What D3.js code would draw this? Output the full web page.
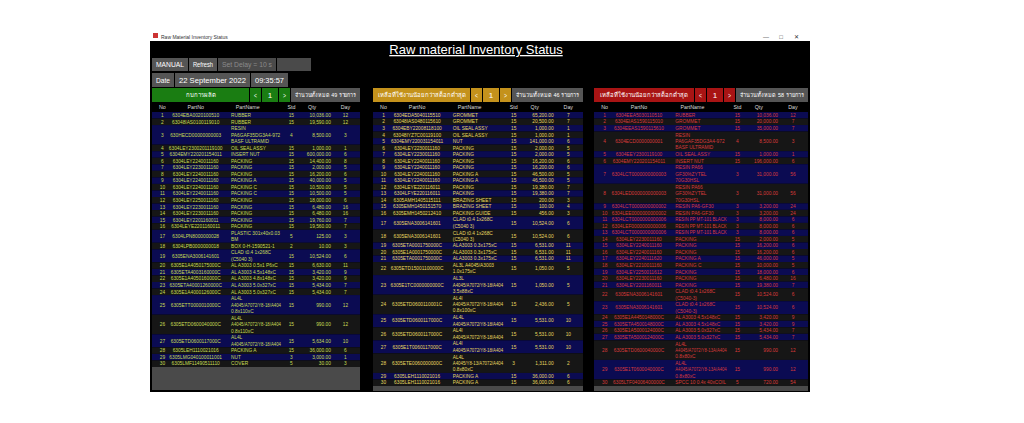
<!DOCTYPE html>
<html><head><meta charset="utf-8">
<script src="https://cdn.jsdelivr.net/npm/d3@7"></script>
<style>body{margin:0;background:#fff}svg{display:block;font-family:"Liberation Sans",Arial,sans-serif}</style>
</head><body><svg id="c" width="1024" height="423"></svg>
<script>
const columns = ["No","PartNo","PartName","Std","Qty","Day"];
const leftPartNo = ["6304EBA0020100510","63048IAS0100119010","630HECD00000000003","6304LEY2300201119100","6304EMY220201154011","6304LEY2240011160","6304LEY2230011160","6304LEY2240011160","6304LEY2240011160","6304LEY2240011160","6304LEY2240011160","6304LEY2250011160","6304LEY2230011160","6304LEY2230011160","6304LEY2201160011","6304LEYE2201160011","6304LPN8000000028","6304LPB0000000018","6305ENA3006141601","6305E1A4050175000C","6305ETA4003160000C","6305E1A4050160000C","6305ETA40001260000C","6305E1A4000126000C","6305ETT0000010000C","6305ETD0600040000C","6305ETD0600117000C","6305LEH1110021016","6305LMG040100011001","6305LMF11490511110"];
const leftName = ["RUBBER","RUBBER","RESIN\nPA6GAF35DG3A4-972\nBASF ULTRAMID","OIL SEAL ASSY","INSERT NUT","PACKING","PACKING","PACKING","PACKING A","PACKING C","PACKING C","PACKING","PACKING","PACKING","PACKING","PACKING","PLASTIC 301x40x0.03\nBM","BOX 0-H-1590521-1","CLAD t0.4 1x268C\n(C5040 3)","AL A3003 0.5x1 P6xC","AL A3003 4.5x148xC","AL A3003 4.8x148xC","AL A3003 5.0x327xC","AL A3003 5.0x327xC","AL4L\nA4045/A7072/Y8-18/A404\n0.8x110xC","AL4L\nA4045/A7072/Y8-18/A404\n0.8x110xC","AL4L\nA4045/A7072/Y8-18/A404","PACKING A","NUT","COVER"];
const leftStd = [15,15,4,15,15,15,15,15,15,15,15,15,15,15,15,15,5,2,15,15,15,15,15,15,15,15,15,15,3,5];
const leftQty = [10036,19590,8500,1000,600000,14400,2000,16200,40000,10500,10500,18000,6480,6480,19760,19560,125,10,10524,6630,3420,3420,5434,5434,990,990,5634,36000,3000,30];
const leftDay = [12,12,3,1,6,8,5,6,5,5,5,6,16,16,7,7,3,3,6,11,9,9,7,7,12,12,10,6,1,3];

const midPartNo = ["6304EDA5040115510","63048IAS0480115610","6304EBY22008118100","63048IYZ7C00119100","6304EMY220031154011","6304LEY2230011160","6304LEY2230011160","6304LEY2240011160","6304LEY2240011160","6304LEY2240011160","6304LEY2240011160","6304LEYE220116011","6304LFYE220116011","6305AMH1405115111","6305EMH1450151570","6305EMH1450212410","6305ENA3006141601","6305ENA3006141601","6305ETA0001750000C","6305E1A0001750000C","6305ETA0001750000C","6305ETD15001100000C","6305E1TC0000000000C","6305ETD0600110001C","6305ETD0600117000C","6305ETD0600117000C","6305E1T0060117000C","6305ETE0060000000C","6305LEH1110021016","6305LEH1110021016"];
const midName = ["GROMMET","GROMMET","OIL SEAL ASSY","OIL SEAL ASSY","NUT","PACKING","PACKING","PACKING","PACKING","PACKING A","PACKING A","PACKING","PACKING","BRAZING SHEET","BRAZING SHEET","PACKING GUIDE","CLAD t0.4 1x268C\n(C5040 3)","CLAD t0.4 1x268C\n(C5040 3)","ALA3003 0.3x175xC","ALA3003 0.3x175xC","ALA3003 0.3x175xC","AL3L A4045/A3003\n1.0x175xC","AL3L\nA4045/A7072/Y8-18/A404\n3.5x88xC","AL4I\nA4045/A7072/Y8-18/A404\n0.8x100xC","AL4L\nA4045/A7072/Y8-18/A404","AL4I\nA4045/A7072/Y8-18/A404","AL4I\nA4045/A7072/Y8-18/A404","AL4L\nA4045/Y8-13/A7072/A404\n0.8x80xC","PACKING A","PACKING A"];
const midStd = [15,15,15,15,15,15,15,15,15,15,15,15,15,15,15,15,15,15,15,15,15,15,15,15,15,15,15,3,15,15];
const midQty = [65200,20500,1000,1000,141000,2000,2000,16200,16200,46500,46500,19380,19380,200,100,456,10524,10524,6531,6531,6531,1050,1050,2436,5531,5531,5531,1311,36000,36000];
const midDay = [7,7,1,1,6,5,5,6,6,5,5,7,7,3,4,3,6,6,11,11,11,5,5,5,10,10,10,2,6,6];

const rightPartNo = ["6304EEA5030110510","6304EIAS1590115010","6304EEAS1590115610","6304ECD0000000001","6304EEY2300119100","6304EMY220201154011","6304LCT0000000000003","6304LED0000000000003","6304LCT0000000000002","6304LEE0000000000002","6304LCT0000000000006","6304LEF0000000000006","6304LCT0000000000006","6304LEY2230011160","6304LEY2240011160","6304LEY2240011160","6304LEY2240111620","6304LEY2210011160","6304LEY2250011612","6304LEY2230011160","6304LEY2201160011","6305ENA3006141601","6305ENA3006141601","6305E1A4450148000C","6305ETA4500148000C","6305E1A5000124000C","6305ETA5000124000C","6305ETD0600040000C","6305E1T0600040000C","6305LTF04006400000C"];
const rightName = ["RUBBER","GROMMET","GROMMET","RESIN\nPA6GAF35DG3A4-972\nBASF ULTRAMID","OIL SEAL ASSY","INSERT NUT","RESIN PA66\nGF30%ZYTEL\n70G30HSL","RESIN PA66\nGF30%ZYTEL\n70G30HSL","RESIN PA6-GF30","RESIN PA6-GF30","RESIN PP MT-101 BLACK","RESIN PP MT-101 BLACK","RESIN PP MT-101 BLACK","PACKING","PACKING","PACKING","PACKING A","PACKING C","PACKING","PACKING","PACKING","CLAD t0.4 1x268C\n(C5040-3)","CLAD t0.4 1x268C\n(C5040-3)","AL A3003 4.5x148xC","AL A3003 4.5x148xC","AL A3003 5.0x327xC","AL A3003 5.0x327xC","AL4L\nA4045/A7072/Y8-13A/A404\n0.8x80xC","AL4L\nA4045/A7072/Y8-13A/A404\n0.8x80xC","SPCC 10 0.4x 40xCOIL"];
const rightStd = [15,15,15,4,15,15,3,3,3,3,3,3,3,15,15,15,15,15,15,15,15,15,15,15,15,15,15,15,15,5];
const rightQty = [10036,20000,35000,8500,1000,196000,31000,31000,3200,3200,8000,8000,8000,2000,16200,16200,46000,10000,18000,6480,19380,10524,10524,3420,3420,5434,5434,990,990,720];
const rightDay = [12,7,7,3,1,6,56,56,24,24,6,6,6,5,6,6,5,5,6,16,7,6,6,9,9,7,7,12,12,54];

const svg = d3.select("#c");
svg.append("rect").attr("x",150).attr("y",41).attr("width",660).attr("height",351).attr("fill","#000");
svg.append("rect").attr("x",150).attr("y",31).attr("width",660).attr("height",10).attr("fill","#fff");
svg.append("rect").attr("x",153).attr("y",33).attr("width",5).attr("height",5).attr("fill","#c33");
svg.append("text").attr("x",161).attr("y",38.5).attr("font-size",5).attr("fill","#333").text("Raw Material Inventory Status");
[["—",766],["□",781],["✕",796]].forEach(([t,x])=>svg.append("text").attr("x",x).attr("y",39).attr("font-size",6).attr("fill","#333").attr("text-anchor","middle").text(t));
svg.append("text").attr("x",476).attr("y",54).attr("font-size",13).attr("fill","#fff").attr("text-anchor","middle").attr("text-decoration","underline").text("Raw material Inventory Status");

function fit(t,maxW){ const n=t.node(); if(n.getComputedTextLength()>maxW) t.attr("textLength",maxW).attr("lengthAdjust","spacingAndGlyphs"); return t; }
function box(x,y,w,h,fill,txt,col,fs){
  svg.append("rect").attr("x",x).attr("y",y).attr("width",w).attr("height",h).attr("fill",fill);
  if(txt!=null) fit(svg.append("text").attr("x",x+w/2).attr("y",y+h/2+fs*0.36).attr("font-size",fs).attr("fill",col).attr("text-anchor","middle").text(txt),w-8);
}
box(152,58,36,13,"#555","MANUAL","#fff",7.5);
box(189,58,28,13,"#555","Refresh","#fff",7.5);
box(218,58,58,13,"#4a4a4a","Set Delay = 10 s","#8a8a8a",7);
box(277,58,34,13,"#4a4a4a",null);
box(152,73,22,14,"#555","Date","#fff",8);
box(175,73,75,14,"#555","22 September 2022","#fff",8);
box(251,73,37,14,"#555","09:35:57","#fff",8);

const panels = [
  {x:152,w:208,bodyEnd:367,grayEnd:390,btn:"#1a7d12",btnTxt:"กบการผลิต",count:"จำนวนทั้งหมด 49 รายการ",text:"#c8dd55",pn:leftPartNo,nm:leftName,sd:leftStd,q:leftQty,d:leftDay,bw:97},
  {x:373,w:210,bodyEnd:386,grayEnd:391,btn:"#c4921c",btnTxt:"เหลือที่ใช้งานน้อยกว่าสต็อกต่ำสุด",count:"จำนวนทั้งหมด 46 รายการ",text:"#e8d860",pn:midPartNo,nm:midName,sd:midStd,q:midQty,d:midDay,bw:97},
  {x:594,w:214,bodyEnd:386,grayEnd:391,btn:"#a81414",btnTxt:"เหลือที่ใช้งานน้อยกว่าสต็อกต่ำสุด",count:"จำนวนทั้งหมด 58 รายการ",text:"#d83a3a",pn:rightPartNo,nm:rightName,sd:rightStd,q:rightQty,d:rightDay,bw:100}
];
const fmt = d3.format(",.2f");
panels.forEach(p=>{
  const hy=88,hh=14;
  box(p.x,hy,p.bw,hh,p.btn,p.btnTxt,"#fff",6);
  box(p.x+p.bw+1,hy,11,hh,p.btn,"<","#fff",7);
  box(p.x+p.bw+13,hy,16,hh,p.btn,"1","#fff",8);
  box(p.x+p.bw+30,hy,11,hh,p.btn,">","#fff",7);
  box(p.x+p.bw+42,hy,p.w-p.bw-42,hh,"#555",p.count,"#fff",5.5);
  const colX = d3.scaleOrdinal().domain(columns).range([0.05,0.21,0.38,0.67,0.81,0.93].map(f=>p.x+f*p.w));
  const anchors = {No:"middle",PartNo:"middle",PartName:"start",Std:"middle",Qty:"end",Day:"middle"};
  const hdrX = {No:colX("No"),PartNo:colX("PartNo"),PartName:p.x+0.46*p.w,Std:colX("Std"),Qty:p.x+0.77*p.w,Day:colX("Day")};
  columns.forEach(c=>svg.append("text").attr("x",hdrX[c]).attr("y",108.5).attr("font-size",5.3).attr("fill","#ddd").attr("text-anchor","middle").text(c));
  const lines = p.nm.map(s=>s.split("\n").length);
  const cum=[0]; lines.forEach(l=>cum.push(cum[cum.length-1]+l));
  const y = d3.scaleLinear().domain([0,cum[cum.length-1]]).range([112,p.bodyEnd]);
  svg.append("rect").attr("x",p.x).attr("y",p.bodyEnd).attr("width",p.w).attr("height",p.grayEnd-p.bodyEnd).attr("fill","#4a4a4a");
  p.nm.forEach((nm,i)=>{
    const y0=y(cum[i]),y1=y(cum[i+1]),ym=(y0+y1)/2;
    svg.append("rect").attr("x",p.x).attr("y",y0).attr("width",p.w).attr("height",y1-y0).attr("fill",i%2===0?"#0b0b52":"#161616");
    const g=svg.append("g").attr("font-size",4.8).attr("fill",p.text);
    const vals={No:i+1,PartNo:p.pn[i],Std:p.sd[i],Qty:fmt(p.q[i]),Day:p.d[i]};
    ["No","PartNo","Std","Qty","Day"].forEach(c=>{
      const t=g.append("text").attr("x",c==="Qty"?p.x+0.86*p.w:colX(c)).attr("y",ym+1.7).attr("text-anchor",anchors[c]).text(vals[c]);
      if(c==="PartNo") fit(t,0.28*p.w);
    });
    const ls=nm.split("\n");
    ls.forEach((l,k)=>fit(g.append("text").attr("x",colX("PartName")).attr("y",ym+1.7+(k-(ls.length-1)/2)*6.3).text(l),0.24*p.w));
  });
});
</script></body></html>
